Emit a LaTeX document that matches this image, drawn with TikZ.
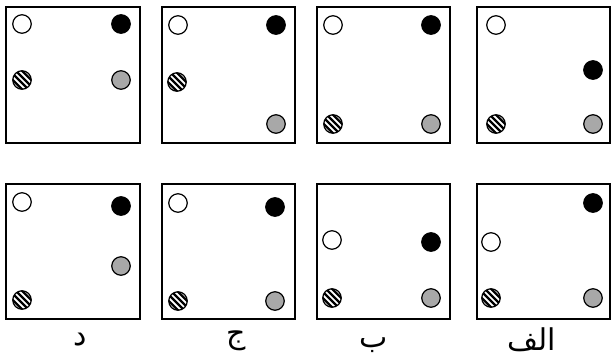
\documentclass[tikz,border=0pt]{standalone}
\usepackage{fontspec}
\newfontfamily\arabicfont[Script=Arabic]{DejaVu Sans}
\TeXXeTstate=1
\usetikzlibrary{calc}
\definecolor{dotgray}{gray}{0.66}

\begin{document}
\begin{tikzpicture}[x=1pt,y=-1pt,
   dot/.style={circle,draw,line width=1.2pt,minimum size=18.5pt,inner sep=0pt},
   wdot/.style={dot,fill=white},
   bdot/.style={dot,fill=black},
   gdot/.style={dot,fill=dotgray},
   hdot/.style={dot,fill=white,path picture={
     \foreach \k in {-1.5,-0.5,0.5,1.5}
       \draw[line width=2.3pt] ($(path picture bounding box.center)+(\k*6.2-10,-10)$) -- ++(20,20);}},
   frame/.style={draw,line width=1.5pt},
   lbl/.style={anchor=base,font=\arabicfont\fontsize{30}{34}\selectfont}]
  \useasboundingbox (0,0) rectangle (611,360);
  % frames
  \foreach \xa/\xb in {6/140,162/295,317/450,477/610} {
    \draw[frame] (\xa,7) rectangle (\xb,143);
    \draw[frame] (\xa,184) rectangle (\xb,319);
  }
  % top row
  \node[wdot] (t1w) at (22,24) {};  \node[bdot] (t1b) at (121,24) {};
  \node[hdot] (t1h) at (22,80) {};  \node[gdot] (t1g) at (121,80) {};
  \node[wdot] (t2w) at (178,25) {}; \node[bdot] (t2b) at (276,25) {};
  \node[hdot] (t2h) at (177,82) {}; \node[gdot] (t2g) at (276,124) {};
  \node[wdot] (t3w) at (333,25) {}; \node[bdot] (t3b) at (431,25) {};
  \node[hdot] (t3h) at (333,124) {};\node[gdot] (t3g) at (431,124) {};
  \node[wdot] (t4w) at (496,25) {}; \node[bdot] (t4b) at (593,70) {};
  \node[hdot] (t4h) at (496,124) {};\node[gdot] (t4g) at (593,124) {};
  % bottom row
  \node[wdot] (b1w) at (22,202) {}; \node[bdot] (b1b) at (121,206) {};
  \node[gdot] (b1g) at (121,266) {};\node[hdot] (b1h) at (22,300) {};
  \node[wdot] (b2w) at (178,203) {};\node[bdot] (b2b) at (275,207) {};
  \node[hdot] (b2h) at (178,301) {};\node[gdot] (b2g) at (275,301) {};
  \node[wdot] (b3w) at (332,240) {};\node[bdot] (b3b) at (431,242) {};
  \node[hdot] (b3h) at (332,298) {};\node[gdot] (b3g) at (431,298) {};
  \node[bdot] (b4b) at (593,203) {};\node[wdot] (b4w) at (491,242) {};
  \node[hdot] (b4h) at (491,298) {};\node[gdot] (b4g) at (593,298) {};
  % labels
  \node[lbl] (ld) at (80,345) {\beginR د\endR};
  \node[lbl] (lj) at (236,343) {\beginR ج\endR};
  \node[lbl] (lb) at (374,347) {\beginR ب\endR};
  \node[lbl] (la) at (532,350) {\beginR الف\endR};
\end{tikzpicture}
\end{document}
